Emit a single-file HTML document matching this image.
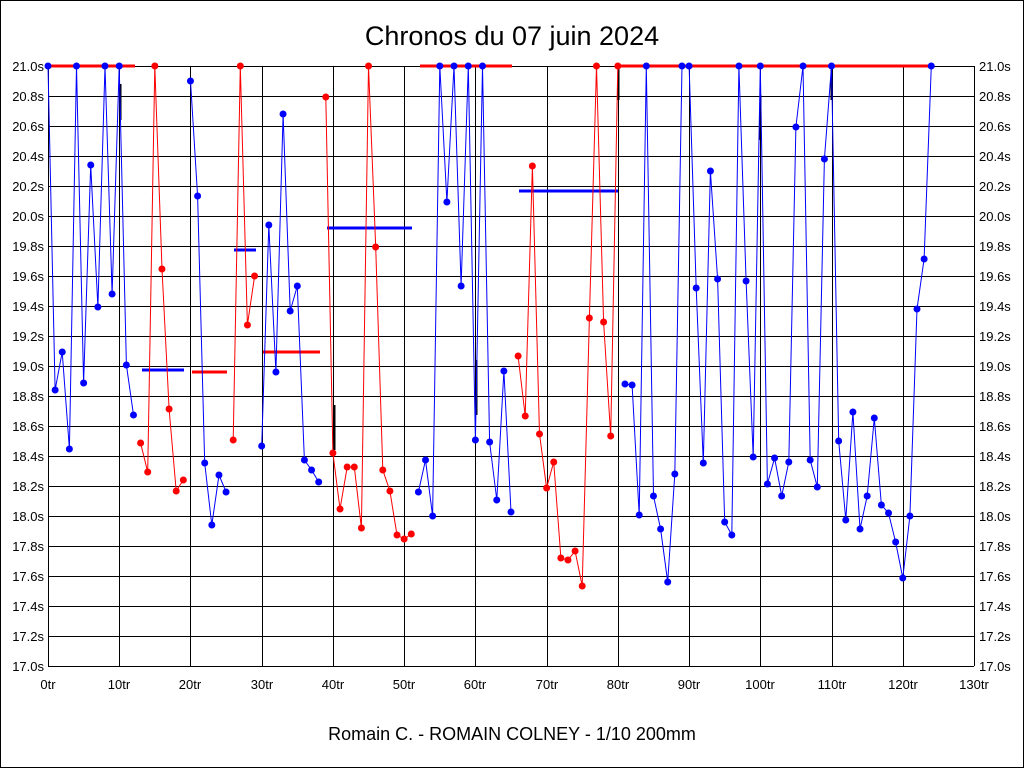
<!DOCTYPE html>
<html><head><meta charset="utf-8"><style>
html,body{margin:0;padding:0;background:#fff}
svg{display:block}
text{font-family:"Liberation Sans",sans-serif;fill:#000}
</style></head><body>
<svg id="s" width="1024" height="768" viewBox="0 0 1024 768" xmlns="http://www.w3.org/2000/svg">
<rect x="0.5" y="0.5" width="1023" height="767" fill="#fff" stroke="#000"/>
<text x="512" y="45" font-size="27" text-anchor="middle">Chronos du 07 juin 2024</text>
<g id="grid" stroke="#000" stroke-width="1"></g>
<g font-size="13" text-anchor="end">
<text x="44" y="71">21.0s</text><text x="44" y="101">20.8s</text><text x="44" y="131">20.6s</text><text x="44" y="161">20.4s</text><text x="44" y="191">20.2s</text><text x="44" y="221">20.0s</text><text x="44" y="251">19.8s</text><text x="44" y="281">19.6s</text><text x="44" y="311">19.4s</text><text x="44" y="341">19.2s</text><text x="44" y="371">19.0s</text><text x="44" y="401">18.8s</text><text x="44" y="431">18.6s</text><text x="44" y="461">18.4s</text><text x="44" y="491">18.2s</text><text x="44" y="521">18.0s</text><text x="44" y="551">17.8s</text><text x="44" y="581">17.6s</text><text x="44" y="611">17.4s</text><text x="44" y="641">17.2s</text><text x="44" y="671">17.0s</text>
</g>
<g font-size="13" text-anchor="start">
<text x="979" y="71">21.0s</text><text x="979" y="101">20.8s</text><text x="979" y="131">20.6s</text><text x="979" y="161">20.4s</text><text x="979" y="191">20.2s</text><text x="979" y="221">20.0s</text><text x="979" y="251">19.8s</text><text x="979" y="281">19.6s</text><text x="979" y="311">19.4s</text><text x="979" y="341">19.2s</text><text x="979" y="371">19.0s</text><text x="979" y="401">18.8s</text><text x="979" y="431">18.6s</text><text x="979" y="461">18.4s</text><text x="979" y="491">18.2s</text><text x="979" y="521">18.0s</text><text x="979" y="551">17.8s</text><text x="979" y="581">17.6s</text><text x="979" y="611">17.4s</text><text x="979" y="641">17.2s</text><text x="979" y="671">17.0s</text>
</g>
<g font-size="13" text-anchor="middle">
<text x="48" y="689">0tr</text><text x="119" y="689">10tr</text><text x="190" y="689">20tr</text><text x="262" y="689">30tr</text><text x="333" y="689">40tr</text><text x="404" y="689">50tr</text><text x="475" y="689">60tr</text><text x="547" y="689">70tr</text><text x="618" y="689">80tr</text><text x="689" y="689">90tr</text><text x="760" y="689">100tr</text><text x="832" y="689">110tr</text><text x="903" y="689">120tr</text><text x="974" y="689">130tr</text>
</g>
<text x="512" y="740" font-size="18" text-anchor="middle">Romain C. - ROMAIN COLNEY - 1/10 200mm</text>
<g id="data"></g>
</svg>
<script>
var ns="http://www.w3.org/2000/svg",g=document.getElementById('grid'),d=document.getElementById('data');
function el(p,t,a){var e=document.createElementNS(ns,t);for(var k in a)e.setAttribute(k,a[k]);p.appendChild(e);return e;}
for(var i=0;i<=20;i++){var y=66+30*i+0.5;el(g,'line',{x1:48,x2:974,y1:y,y2:y});}
for(var i=0;i<=13;i++){var x=Math.round(48+926*i/13)+0.5;el(g,'line',{x1:x,x2:x,y1:66,y2:666});}
var Y=[66,390,352,449,66,383,165,307,66,294,66,365,415,443,472,66,269,409,491,480,81,196,463,525,475,492,440,66,325,276,446,225,372,114,311,286,460,470,482,97,453,509,467,467,528,66,247,470,491,535,539,534,492,460,516,66,202,66,286,66,440,66,442,500,371,512,356,416,166,434,488,462,558,560,551,586,318,66,322,436,66,384,385,515,66,496,529,582,474,66,66,288,463,171,279,522,535,66,281,457,66,484,458,496,462,127,66,460,487,159,66,441,520,412,529,496,418,505,513,542,578,516,309,259,66];
function X(i){return 48+926*i/130;}
var segs=[[0,12,'#00f'],[13,19,'#f00'],[20,25,'#00f'],[26,29,'#f00'],[30,38,'#00f'],[39,51,'#f00'],[52,65,'#00f'],[66,80,'#f00'],[81,124,'#00f']];
// top red lines
[[48,135],[420,512],[618,932]].forEach(function(a){el(d,'line',{x1:a[0],x2:a[1],y1:66,y2:66,stroke:'#f00','stroke-width':3});});
// averages
[[142,184,370,'#00f'],[234,256,250,'#00f'],[327,412,228,'#00f'],[519,618,191,'#00f'],[192,227,372,'#f00'],[263,320,352,'#f00']].forEach(function(a){el(d,'line',{x1:a[0],x2:a[1],y1:a[2],y2:a[2],stroke:a[3],'stroke-width':3});});
// black markers
[[120,84,120],[476,360,415],[760,95,140],[831,70,100],[334,405,450],[618,66,100]].forEach(function(a){el(d,'line',{x1:a[0]+0.5,x2:a[0]+0.5,y1:a[1],y2:a[2],stroke:'#000','stroke-width':2});});
segs.forEach(function(s){var p=[];for(var i=s[0];i<=s[1];i++)p.push(X(i).toFixed(1)+','+Y[i]);
el(d,'polyline',{points:p.join(' '),fill:'none',stroke:s[2],'stroke-width':1});
for(var i=s[0];i<=s[1];i++)el(d,'circle',{cx:X(i),cy:Y[i],r:3.5,fill:s[2]});});
</script>
</body></html>
